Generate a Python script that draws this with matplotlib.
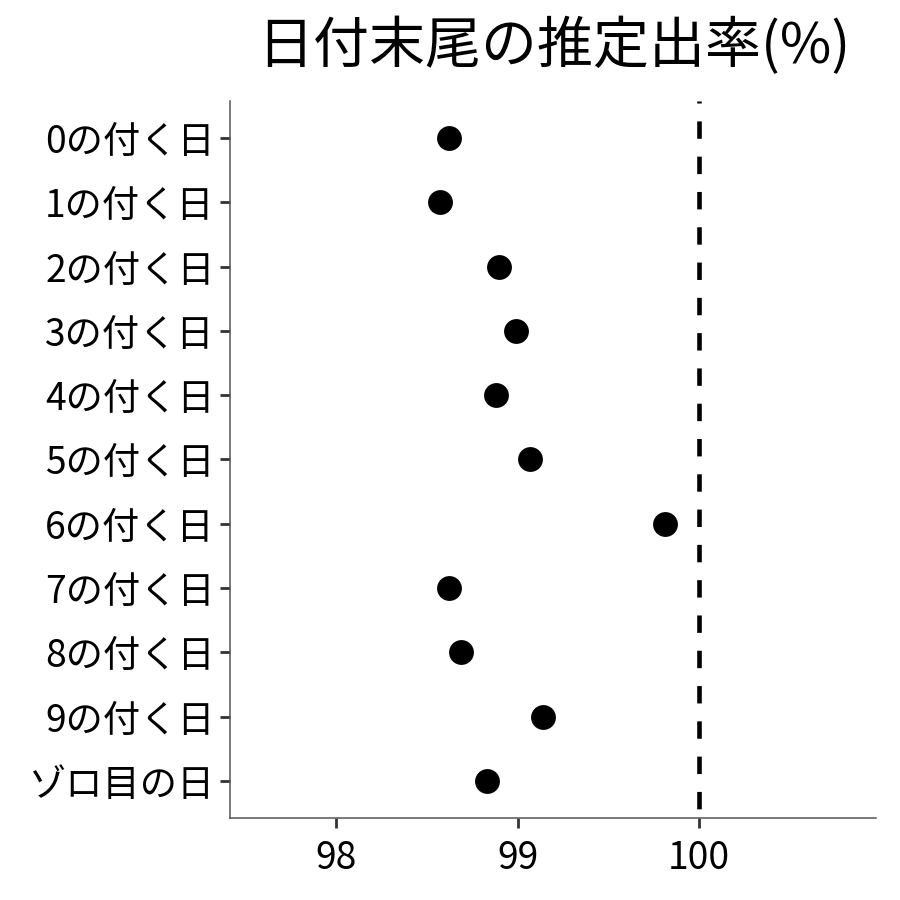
import matplotlib
matplotlib.use('Agg')
import matplotlib.pyplot as plt

plt.rcParams['font.family'] = ['Noto Sans CJK JP', 'DejaVu Sans']

labels = ['0の付く日', '1の付く日', '2の付く日', '3の付く日', '4の付く日',
          '5の付く日', '6の付く日', '7の付く日', '8の付く日', '9の付く日',
          'ゾロ目の日']
rates = [98.62, 98.57, 98.90, 98.99, 98.88, 99.07, 99.81, 98.62, 98.69,
         99.14, 98.83]

fig = plt.figure(figsize=(9, 9), dpi=100)
ax = fig.add_axes([0.2556, 0.0911, 0.7177, 0.7967])

ypos = list(range(len(labels)))
ax.scatter(rates, ypos, s=320, color='black', zorder=3, linewidths=0)
ax.axvline(100, color='black', linestyle=(5.7, (3.8, 3.9)), linewidth=3.3)

ax.set_xlim(97.415, 100.975)
ax.set_ylim(len(labels) - 0.424, -0.576)
ax.set_yticks(ypos)
ax.set_yticklabels(labels)
ax.set_xticks([98, 99, 100])
ax.set_xticklabels(['98', '99', '100'])

for s in ['top', 'right']:
    ax.spines[s].set_visible(False)
for s in ['left', 'bottom']:
    ax.spines[s].set_color('#555555')
    ax.spines[s].set_linewidth(1.1)

ax.tick_params(axis='both', labelsize=26.8, colors='#333333', labelcolor='black',
               width=2, length=7)
ax.tick_params(axis='y', pad=4)
ax.tick_params(axis='x', pad=8)

fig.text(0.615, 0.948, '日付末尾の推定出率(%)', fontsize=40.3, ha='center', va='center')

fig.savefig('out.png', dpi=100)
